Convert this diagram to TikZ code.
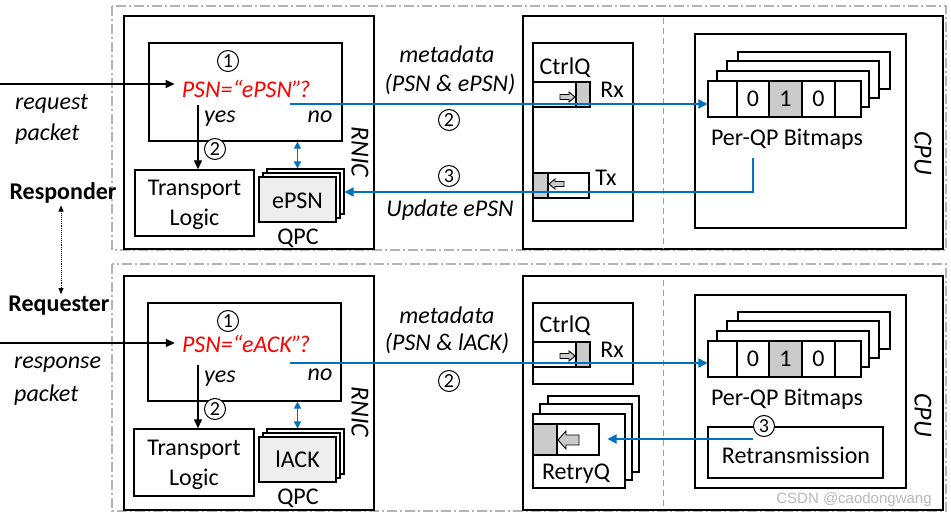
\documentclass[tikz,border=0pt]{standalone}
\usepackage{fontspec}
\setmainfont{Carlito}
\newfontfamily\wmfont{Liberation Sans}
\usetikzlibrary{arrows.meta,fit}
\definecolor{blu}{HTML}{0070C0}
\definecolor{ddgray}{HTML}{B4B4B4}
\definecolor{qgray}{HTML}{CBCBCB}
\definecolor{pred}{HTML}{FF0000}
\definecolor{qpcfill}{HTML}{EEEEEE}
\tikzset{
  box/.style={draw, line width=1.4pt, inner sep=0pt},
  thinbox/.style={draw, line width=1.1pt, inner sep=0pt},
  outerbox/.style={draw=ddgray, line width=1.3pt, dash pattern=on 10pt off 3pt on 2pt off 3pt},
  sepline/.style={draw=gray!75, line width=1pt, dash pattern=on 6pt off 4pt},
  lbl/.style={inner sep=1pt, font=\fontsize{24}{29}\selectfont},
  itl/.style={inner sep=1pt, font=\fontsize{24}{29}\selectfont\itshape},
  bld/.style={inner sep=2pt, font=\fontsize{24}{29}\selectfont\bfseries},
  rot/.style={inner sep=1pt, rotate=-90, font=\fontsize{26}{30}\selectfont\itshape},
  circ/.style={circle, draw, line width=1pt, fill=white, minimum size=21pt, inner sep=0pt, font=\fontsize{20}{20}\selectfont},
  blk/.style={-{Triangle[length=9pt,width=8pt]}, line width=1.3pt},
  bll/.style={draw=blu, line width=1.8pt},
  blarrow/.style={bll, -{Triangle[length=9pt,width=9pt]}},
  bldbl/.style={bll, line width=1.6pt, {Triangle[length=7pt,width=7pt]}-{Triangle[length=7pt,width=7pt]}},
  blkarrow/.style={draw, fill=qgray, line width=0.9pt},
  tltext/.style={inner sep=0pt, align=center, font=\fontsize{24}{30}\selectfont},
}
\begin{document}
\begin{tikzpicture}[x=1pt,y=-1pt]
\useasboundingbox (0,0) rectangle (951,518);
\fill[white] (0,0) rectangle (951,518);

% ---------- outer dash-dot frames ----------
\draw[outerbox] (112,6) rectangle (946,250);
\draw[outerbox] (112,264) rectangle (946,511);

% ================= RESPONDER (top) =================
\node[box, fit={(124,16)(374,249)}] (rnic1) {};
\node[box, fit={(149,43)(342,141)}] (dec1) {};
\node[circ] (c1a) at (228,61) {1};
\node[itl, text=pred] (psn1) at (246,89) {PSN=“ePSN”\kern-3pt?};
\coordinate (in1) at (0,84);
\draw[blk, shorten >=6pt] (in1) -- (in1 -| psn1.west);
\node[itl, anchor=west] (rq1a) at (14,104) {request};
\node[itl, anchor=west] (rq1b) at (14,134) {packet};
\node[box, fit={(135,170)(254,236)}] (tl1) {};
\node[tltext] (tl1t) at ([yshift=-2pt]tl1.center) {Transport\\Logic};
\coordinate (ys1) at (198,105);
\draw[blk] (ys1) -- (ys1 |- tl1.north);
\node[itl] (yes1) at (220,119) {yes};
\node[circ] (c2a) at (215,149) {2};
\node[itl] (no1) at (320,117) {no};
\node[thinbox, fill=white, fit={(267,169)(344,214)}] (qs1c) {};
\node[thinbox, fill=white, fit={(263,173)(340,218)}] (qs1b) {};
\node[thinbox, fill=qpcfill, fit={(259,177)(336,222)}] (qs1a) {};
\node[lbl] (qs1t) at ([yshift=-1.5pt]qs1a.center) {ePSN};
\node[lbl] (qpc1) at (298,238) {QPC};
\draw[bldbl] (qs1a.north |- dec1.south) -- (qs1a.north |- qs1c.north);
\node[rot] (rnic1t) at (360,152) {RNIC};
\node[bld] (resp) at (63,193) {Responder};

% host memory + CPU
\node[box, fit={(523,16)(943,249)}] (hm1) {};
\draw[sepline] (663,18) -- (663,249);
\node[box, fit={(533,43)(633,221)}] (cq1) {};
\node[lbl] (cq1t) at (565,68) {CtrlQ};
\node[thinbox, fit={(533,82)(590,107)}] (rx1) {};
\node[thinbox, fill=qgray, fit={(576,82)(590,107)}] (rx1g) {};
\draw[blkarrow, shift={(560,97)}] (0,-2.5) -- (9,-2.5) -- (9,-5) -- (15,0) -- (9,5) -- (9,2.5) -- (0,2.5) -- cycle;
\node[lbl] (rx1t) at (612,90) {Rx};
\node[thinbox, fit={(533,173)(589,198)}] (tx1) {};
\node[thinbox, fill=qgray, fit={(533,173)(548,198)}] (tx1g) {};
\draw[blkarrow, shift={(549,184)}] (0,0) -- (6,-5) -- (6,-2.5) -- (15,-2.5) -- (15,2.5) -- (6,2.5) -- (6,5) -- cycle;
\node[lbl] (tx1t) at (606,178) {Tx};

\node[box, fit={(695,34)(906,228)}] (bm1) {};
\node[thinbox, fill=white, fit={(738,52)(890,89)}] (b1l4) {};
\node[thinbox, fill=white, fit={(727,61)(879,98)}] (b1l3) {};
\node[thinbox, fill=white, fit={(717,71)(869,107)}] (b1l2) {};
\node[thinbox, fill=white, fit={(708,81)(737,117)}] (b1c1) {};
\node[thinbox, fill=white, fit={(737,81)(769,117)}] (b1c2) {};
\node[thinbox, fill=qgray, fit={(769,81)(802,117)}] (b1c3) {};
\node[thinbox, fill=white, fit={(802,81)(835,117)}] (b1c4) {};
\node[thinbox, fill=white, fit={(835,81)(861,117)}] (b1c5) {};
\node[lbl] (b1d2) at (b1c2.center) {0};
\node[lbl] (b1d3) at (b1c3.center) {1};
\node[lbl] (b1d4) at (b1c4.center) {0};
\node[lbl] (pq1) at (787,139) {Per-QP Bitmaps};
\node[rot] (cpu1) at (923,153) {CPU};

% connectors + labels
\coordinate (no1s) at (290,104);
\draw[blarrow] (no1s) -- (no1s -| b1c1.west);
\coordinate (up1s) at (753,158);
\coordinate (up1y) at (700,192);
\draw[blarrow] (up1s) |- (up1y -| qs1c.east);
\node[itl] (md1) at (447,54) {metadata};
\node[itl] (md1b) at (450,84) {(PSN \& ePSN)};
\node[circ] (c2b) at (449,120) {2};
\node[circ] (c3a) at (449,176) {3};
\node[itl] (upd1) at (450,210) {Update ePSN};

% ================= REQUESTER (bottom) =================
\node[box, fit={(124,276)(374,510)}] (rnic2) {};
\node[box, fit={(148,303)(341,401)}] (dec2) {};
\node[circ] (c1b) at (228,321) {1};
\node[itl, text=pred] (psn2) at (246,344) {PSN=“eACK”\kern-3pt?};
\coordinate (in2) at (0,343);
\draw[blk, shorten >=6pt] (in2) -- (in2 -| psn2.west);
\node[itl, anchor=west] (rs2a) at (13,365) {response};
\node[itl, anchor=west] (rs2b) at (13,395) {packet};
\node[box, fit={(134,429)(254,496)}] (tl2) {};
\node[tltext] (tl2t) at ([yshift=-2pt]tl2.center) {Transport\\Logic};
\coordinate (ys2) at (198,365);
\draw[blk] (ys2) -- (ys2 |- tl2.north);
\node[itl] (yes2) at (220,379) {yes};
\node[circ] (c2c) at (215,409) {2};
\node[itl] (no2) at (320,375) {no};
\node[thinbox, fill=white, fit={(267,429)(344,474)}] (qs2c) {};
\node[thinbox, fill=white, fit={(263,433)(340,478)}] (qs2b) {};
\node[thinbox, fill=qpcfill, fit={(259,437)(336,482)}] (qs2a) {};
\node[lbl] (qs2t) at (qs2a.center) {lACK};
\node[lbl] (qpc2) at (298,498) {QPC};
\draw[bldbl] (qs2a.north |- dec2.south) -- (qs2a.north |- qs2c.north);
\node[rot] (rnic2t) at (360,412) {RNIC};
\node[bld] (req) at (59,306) {Requester};
\coordinate (dx) at (61,250);
\draw[densely dotted, line width=0.9pt, {Triangle[length=6pt,width=5pt]}-{Triangle[length=6pt,width=5pt]}] (resp.south -| dx) -- (req.north -| dx);

\node[box, fit={(523,276)(943,510)}] (hm2) {};
\draw[sepline] (663,280) -- (663,510);
\node[box, fit={(533,303)(633,384)}] (cq2) {};
\node[lbl] (cq2t) at (565,326) {CtrlQ};
\node[thinbox, fit={(533,342)(590,367)}] (rx2) {};
\node[thinbox, fill=qgray, fit={(576,342)(590,367)}] (rx2g) {};
\draw[blkarrow, shift={(560,356)}] (0,-2.5) -- (9,-2.5) -- (9,-5) -- (15,0) -- (9,5) -- (9,2.5) -- (0,2.5) -- cycle;
\node[lbl] (rx2t) at (612,350) {Rx};

\node[box, fill=white, fit={(548,396)(639,472)}] (rq2c) {};
\node[box, fill=white, fit={(540,404)(632,480)}] (rq2b) {};
\node[box, fill=white, fit={(533,414)(625,488)}] (rq2a) {};
\node[thinbox, fit={(533,424)(599,455)}] (rqq) {};
\node[thinbox, fill=qgray, fit={(533,424)(557,455)}] (rqqg) {};
\draw[blkarrow, shift={(558,440)}] (0,0) -- (8,-9) -- (8,-5) -- (21,-5) -- (21,5) -- (8,5) -- (8,9) -- cycle;
\node[lbl] (rq2t) at (576,474) {RetryQ};

\node[box, fit={(695,295)(906,488)}] (bm2) {};
\node[thinbox, fill=white, fit={(738,312)(890,349)}] (b2l4) {};
\node[thinbox, fill=white, fit={(727,321)(879,358)}] (b2l3) {};
\node[thinbox, fill=white, fit={(717,331)(869,367)}] (b2l2) {};
\node[thinbox, fill=white, fit={(708,341)(737,377)}] (b2c1) {};
\node[thinbox, fill=white, fit={(737,341)(769,377)}] (b2c2) {};
\node[thinbox, fill=qgray, fit={(769,341)(802,377)}] (b2c3) {};
\node[thinbox, fill=white, fit={(802,341)(835,377)}] (b2c4) {};
\node[thinbox, fill=white, fit={(835,341)(861,377)}] (b2c5) {};
\node[lbl] (b2d2) at (b2c2.center) {0};
\node[lbl] (b2d3) at (b2c3.center) {1};
\node[lbl] (b2d4) at (b2c4.center) {0};
\node[lbl] (pq2) at (787,399) {Per-QP Bitmaps};
\node[box, fit={(708,427)(883,478)}] (rt2) {};
\node[lbl] (rt2t) at (796,455) {Retransmission};
\node[circ] (c3b) at (764,426) {3};
\node[rot] (cpu2) at (923,415) {CPU};

\coordinate (no2s) at (290,363);
\draw[blarrow] (no2s) -- (no2s -| b2c1.west);
\coordinate (rts) at (753,439);
\draw[blarrow, shorten >=8pt] (rts) -- (rts -| rqq.east);
\node[itl] (md2) at (447,315) {metadata};
\node[itl] (md2b) at (447,343) {(PSN \& lACK)};
\node[circ] (c2d) at (449,381) {2};

\node[inner sep=0pt, text=gray!55, font=\wmfont\fontsize{15}{15}\selectfont] (wm) at (854,500) {CSDN @caodongwang};
\end{tikzpicture}
\end{document}
